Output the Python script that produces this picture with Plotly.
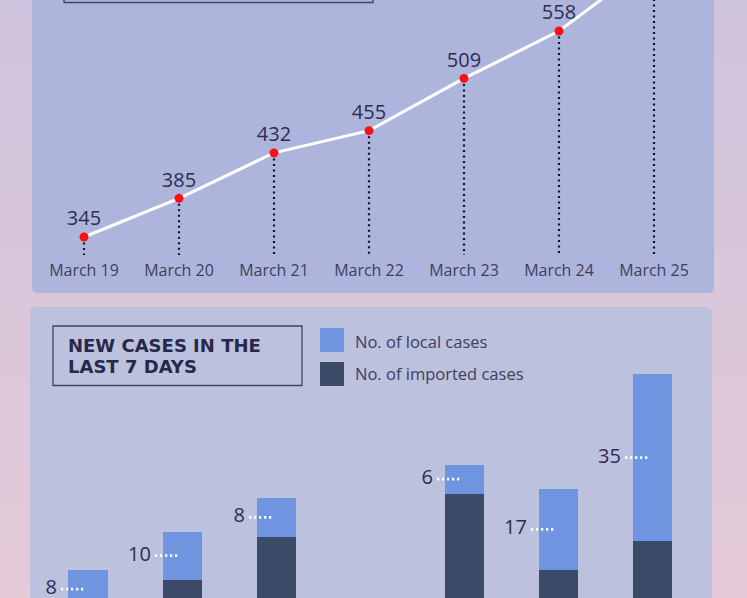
import plotly.graph_objects as go

W, H = 747, 598

# data
dates = ["March 19", "March 20", "March 21", "March 22", "March 23", "March 24", "March 25"]
total_cases = [345, 385, 432, 455, 509, 558, 631]
local_cases = [8, 10, 8, 6, 6, 17, 35]
imported_cases = [24, 30, 39, 17, 48, 32, 38]
title_lines = ["NEW CASES IN THE", "LAST 7 DAYS"]

# colours
top_panel = "#aeb5dc"
bottom_panel = "#bcc1dd"
local_color = "#6f95e1"
imported_color = "#3b4a66"
text_dark = "#2c2d4f"
tick_color = "#3d4062"
bg_top = (207, 196, 221)
bg_bottom = (229, 202, 216)
FONT = "Open Sans"


# pixel -> paper helpers
def px(x):
    return x / W


def py(y):
    return 1 - y / H


def rounded_rect(x0, y0, x1, y1, r):
    pts = [
        f"M {px(x0 + r)},{py(y0)}",
        f"L {px(x1 - r)},{py(y0)}",
        f"Q {px(x1)},{py(y0)} {px(x1)},{py(y0 + r)}",
        f"L {px(x1)},{py(y1 - r)}",
        f"Q {px(x1)},{py(y1)} {px(x1 - r)},{py(y1)}",
        f"L {px(x0 + r)},{py(y1)}",
        f"Q {px(x0)},{py(y1)} {px(x0)},{py(y1 - r)}",
        f"L {px(x0)},{py(y0 + r)}",
        f"Q {px(x0)},{py(y0)} {px(x0 + r)},{py(y0)}",
        "Z",
    ]
    return " ".join(pts)


xs = list(range(len(dates)))

fig = go.Figure()

# dotted drop lines under each point
drop_x, drop_y = [], []
for i, v in enumerate(total_cases):
    drop_x += [i, i, None]
    drop_y += [v, 0, None]
fig.add_trace(go.Scatter(x=drop_x, y=drop_y, mode="lines",
                         line=dict(color="#101024", width=2.2, dash="2px,3.5px"),
                         hoverinfo="skip", showlegend=False, xaxis="x", yaxis="y"))

# cumulative line
fig.add_trace(go.Scatter(x=xs, y=total_cases, mode="lines+markers+text",
                         text=[str(v) for v in total_cases],
                         textposition="top center",
                         textfont=dict(family=FONT, size=20, color=text_dark),
                         line=dict(color="white", width=3),
                         marker=dict(color="#ff1010", size=9),
                         showlegend=False, xaxis="x", yaxis="y"))

# stacked bars
fig.add_trace(go.Bar(x=xs, y=imported_cases, name="No. of imported cases",
                     marker=dict(color=imported_color, line=dict(width=0)),
                     width=0.415, showlegend=False, xaxis="x2", yaxis="y2"))
fig.add_trace(go.Bar(x=xs, y=local_cases, name="No. of local cases",
                     marker=dict(color=local_color, line=dict(width=0)),
                     width=0.415, showlegend=False, xaxis="x2", yaxis="y2"))

# labels for local cases with white dotted leaders
mids = [imp + loc / 2 for imp, loc in zip(imported_cases, local_cases)]
lead_x, lead_y = [], []
for i, m in enumerate(mids):
    lead_x += [i - 0.287, i - 0.032, None]
    lead_y += [m, m, None]
fig.add_trace(go.Scatter(x=lead_x, y=lead_y, mode="lines",
                         line=dict(color="white", width=2.8, dash="2.2px,2.8px"),
                         hoverinfo="skip", showlegend=False, xaxis="x2", yaxis="y2"))
fig.add_trace(go.Scatter(x=[i - 0.33 for i in xs], y=mids, mode="text",
                         text=[str(v) for v in local_cases],
                         textposition="middle left",
                         textfont=dict(family=FONT, size=20, color=text_dark),
                         showlegend=False, xaxis="x2", yaxis="y2"))

# background gradient + panels
shapes = []
N = 60
for k in range(N):
    t = k / (N - 1)
    c = tuple(int(bg_top[j] + (bg_bottom[j] - bg_top[j]) * t) for j in range(3))
    shapes.append(dict(type="rect", xref="paper", yref="paper",
                       x0=0, x1=1, y0=1 - (k + 1) / N - 0.002, y1=1 - k / N,
                       fillcolor=f"rgb{c}", line=dict(width=0), layer="below"))
shapes.append(dict(type="path", xref="paper", yref="paper",
                   path=rounded_rect(32, -20, 714, 293, 6),
                   fillcolor=top_panel, line=dict(width=0), layer="below"))
shapes.append(dict(type="path", xref="paper", yref="paper",
                   path=rounded_rect(30, 307, 712, 640, 6),
                   fillcolor=bottom_panel, line=dict(width=0), layer="below"))
# title boxes
shapes.append(dict(type="rect", xref="paper", yref="paper",
                   x0=px(64), x1=px(373), y0=py(2.5), y1=py(-40),
                   line=dict(color="#3f4368", width=1.3)))
shapes.append(dict(type="rect", xref="paper", yref="paper",
                   x0=px(53), x1=px(302), y0=py(385.5), y1=py(326),
                   line=dict(color="#3f4368", width=1.3)))
# legend swatches
shapes.append(dict(type="rect", xref="paper", yref="paper",
                   x0=px(320), x1=px(344), y0=py(352), y1=py(328),
                   fillcolor=local_color, line=dict(width=0)))
shapes.append(dict(type="rect", xref="paper", yref="paper",
                   x0=px(320), x1=px(344), y0=py(386), y1=py(362),
                   fillcolor=imported_color, line=dict(width=0)))

annotations = [
    dict(text=f"<b>{title_lines[0]}</b>", xref="paper", yref="paper",
         x=px(66), y=py(346), xanchor="left", yanchor="middle",
         showarrow=False, font=dict(family="DejaVu Sans", size=18, color="#28284a")),
    dict(text=f"<b>{title_lines[1]}</b>", xref="paper", yref="paper",
         x=px(66), y=py(366.5), xanchor="left", yanchor="middle",
         showarrow=False, font=dict(family="DejaVu Sans", size=18, color="#28284a")),
    dict(text="No. of local cases", xref="paper", yref="paper",
         x=px(353), y=py(341), xanchor="left", yanchor="middle",
         showarrow=False, font=dict(family=FONT, size=16.5, color=tick_color)),
    dict(text="No. of imported cases", xref="paper", yref="paper",
         x=px(353), y=py(373), xanchor="left", yanchor="middle",
         showarrow=False, font=dict(family=FONT, size=16.5, color=tick_color)),
]

fig.update_layout(
    width=W, height=H,
    margin=dict(l=0, r=0, t=0, b=0),
    paper_bgcolor="rgb(229,202,216)",
    plot_bgcolor="rgba(0,0,0,0)",
    shapes=shapes,
    annotations=annotations,
    xaxis=dict(domain=[px(36.5), px(701.5)], range=[-0.5, 6.5], anchor="y",
               tickvals=xs, ticktext=dates, showgrid=False, zeroline=False,
               showline=False, ticks="", ticklabelstandoff=4,
               tickfont=dict(family=FONT, size=16, color=tick_color)),
    yaxis=dict(domain=[py(255), 1], range=[326.4, 590.1], anchor="x",
               visible=False),
    xaxis2=dict(domain=[px(41), px(699)], range=[-0.5, 6.5], anchor="y2",
                visible=False),
    yaxis2=dict(domain=[0, py(307)], range=[26.15, 87.0], anchor="x2",
                visible=False),
    barmode="stack",
    bargap=0,
)

# drop the page's default body margin so the chart sits at the window's corner
fig.write_html("out.html", config={"displayModeBar": False},
               post_script="document.body.style.margin='0';")
